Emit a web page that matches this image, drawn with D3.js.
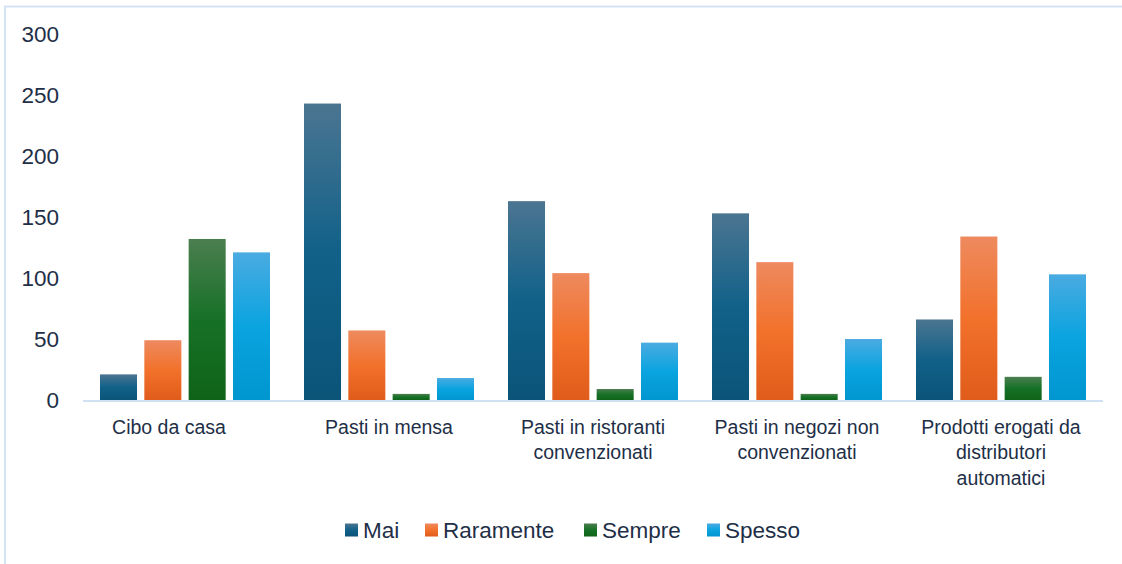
<!DOCTYPE html>
<html>
<head>
<meta charset="utf-8">
<script src="https://cdn.jsdelivr.net/npm/d3@7"></script>
<style>
  body { margin: 0; background: #fff; }
  .chart text { font-family: "Liberation Sans", Arial, sans-serif; fill: #1e2f47; }
</style>
</head>
<body>
<div class="chart"></div>
<script>
const categories = [
  ['Cibo da casa'],
  ['Pasti in mensa'],
  ['Pasti in ristoranti', 'convenzionati'],
  ['Pasti in negozi non', 'convenzionati'],
  ['Prodotti erogati da', 'distributori', 'automatici']
]
const seriesNames = ['Mai', 'Raramente', 'Sempre', 'Spesso']
const mai = [21, 243, 163, 153, 66]
const raramente = [49, 57, 104, 113, 134]
const sempre = [132, 5, 9, 5, 19]
const spesso = [121, 18, 47, 50, 103]
const yTicks = [0, 50, 100, 150, 200, 250, 300]

const seriesValues = [mai, raramente, sempre, spesso]
const gradients = [
  ['#4b7591', '#116189', '#0b5478'],
  ['#ee8a5f', '#f2712b', '#df5c1a'],
  ['#4b7e4f', '#167127', '#0f6318'],
  ['#4aabe1', '#0aa4e0', '#0096d0']
]

const width = 1122
const height = 564
const margin = { top: 34, left: 83, right: 19, bottom: 164 }

const svg = d3.select('.chart')
  .append('svg')
  .attr('width', width)
  .attr('height', height)

// border (only top and left visible)
svg.append('path')
  .attr('d', `M5,${height} L5,6.5 L${width},6.5`)
  .attr('fill', 'none')
  .attr('stroke', '#d3e2f4')
  .attr('stroke-width', 2)

const defs = svg.append('defs')
gradients.forEach((g, i) => {
  const lg = defs.append('linearGradient')
    .attr('id', 'grad' + i)
    .attr('x1', 0).attr('y1', 0).attr('x2', 0).attr('y2', 1)
  lg.append('stop').attr('offset', '0%').attr('stop-color', g[0])
  lg.append('stop').attr('offset', '50%').attr('stop-color', g[1])
  lg.append('stop').attr('offset', '100%').attr('stop-color', g[2])
})

const x0 = d3.scaleBand()
  .domain(d3.range(categories.length))
  .range([margin.left, width - margin.right])

const x1 = d3.scaleBand()
  .domain(d3.range(seriesNames.length))
  .range([17, x0.bandwidth() - 17])
  .paddingInner(0.165)

const y = d3.scaleLinear()
  .domain([0, 300])
  .range([400, margin.top])

// y tick labels
svg.append('g')
  .selectAll('text')
  .data(yTicks)
  .join('text')
  .attr('x', 59)
  .attr('y', d => y(d))
  .attr('dy', '0.36em')
  .attr('text-anchor', 'end')
  .style('font-size', '22.5px')
  .text(d => d)

// bars
const groups = svg.append('g')
  .selectAll('g')
  .data(categories.map((c, i) => i))
  .join('g')
  .attr('transform', i => `translate(${x0(i)},0)`)

groups.selectAll('rect')
  .data(i => seriesValues.map((s, k) => ({ k: k, v: s[i] })))
  .join('rect')
  .attr('x', d => x1(d.k))
  .attr('width', x1.bandwidth())
  .attr('y', d => y(d.v))
  .attr('height', d => y(0) - y(d.v))
  .attr('fill', d => `url(#grad${d.k})`)

// baseline
svg.append('line')
  .attr('x1', margin.left).attr('x2', width - margin.right)
  .attr('y1', y(0) + 1).attr('y2', y(0) + 1)
  .attr('stroke', '#d0e1f4')
  .attr('stroke-width', 2)

// category labels (first one sits a bit left of its group centre in the original)
const catLabels = svg.append('g')
  .selectAll('text')
  .data(categories)
  .join('text')
  .attr('x', (d, i) => x0(i) + x0.bandwidth() / 2 - (i === 0 ? 16 : 0))
  .attr('y', 427)
  .attr('text-anchor', 'middle')
  .style('font-size', '19.5px')

catLabels.selectAll('tspan')
  .data(d => d)
  .join('tspan')
  .attr('x', function () { return this.parentNode.getAttribute('x') })
  .attr('dy', (d, j) => j === 0 ? '0.35em' : '25.5px')
  .text(d => d)

// legend
const legendX = [345, 425, 584, 707]
const legend = svg.append('g')
  .selectAll('g')
  .data(seriesNames)
  .join('g')
  .attr('transform', (d, i) => `translate(${legendX[i]},530)`)

legend.append('rect')
  .attr('x', 0).attr('y', -6.5)
  .attr('width', 13).attr('height', 13)
  .attr('fill', (d, i) => `url(#grad${i})`)

legend.append('text')
  .attr('x', 18)
  .attr('dy', '0.36em')
  .style('font-size', '22.5px')
  .text(d => d)
</script>
</body>
</html>
